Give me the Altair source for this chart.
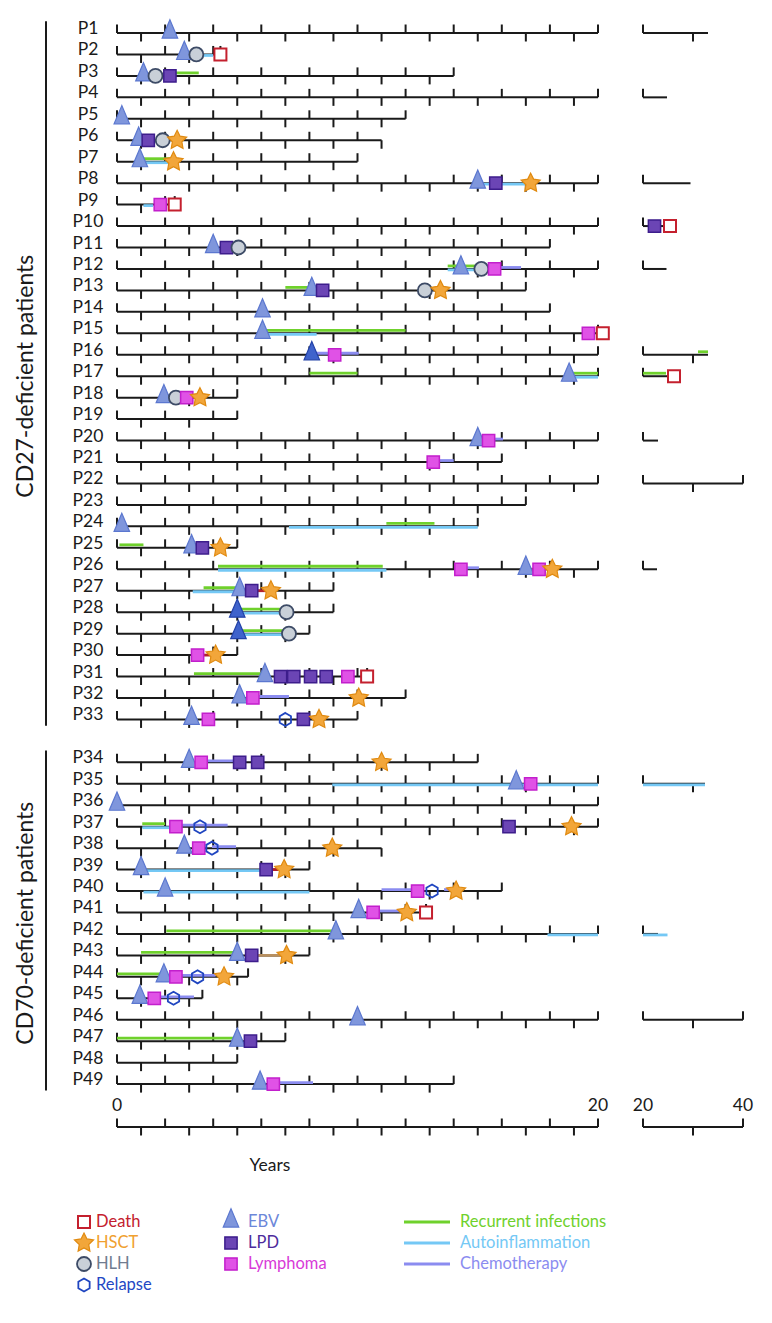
import math
import altair as alt
import pandas as pd

# ---------------- data ----------------
patients = [f"P{i}" for i in range(1, 50)]
cd27_count = 33  # P1-P33 CD27-deficient, P34-P49 CD70-deficient
group_titles = ["CD27-deficient patients", "CD70-deficient patients"]

followup = [33, 4.3, 14, 24.8, 12, 11, 10, 29.5, 2.4, 25.4,
            18, 24.7, 17, 18, 20, 33, 26.2, 5, 5, 23,
            16, 40, 17, 15, 5, 22.8, 9, 9, 8, 5,
            10.4, 12, 10, 15, 32.4, 20, 20, 11, 8, 16,
            12.85, 23, 8, 5.45, 3.55, 40, 7, 5, 14]
end_cap_down = ["P6", "P38"]

ebv = [("P1", 2.2), ("P2", 2.8), ("P3", 1.1), ("P5", 0.2), ("P6", 0.9), ("P7", 0.95),
       ("P8", 15.0), ("P11", 4.0), ("P12", 14.3), ("P13", 8.1), ("P14", 6.05), ("P15", 6.05),
       ("P17", 18.8), ("P18", 1.95), ("P20", 15.0), ("P24", 0.2), ("P25", 3.1), ("P26", 17.0),
       ("P27", 5.1), ("P31", 6.15), ("P32", 5.1), ("P33", 3.1), ("P34", 3.0), ("P35", 16.6),
       ("P36", 0.0), ("P38", 2.8), ("P39", 1.0), ("P40", 2.0), ("P41", 10.05), ("P42", 9.1),
       ("P43", 5.0), ("P44", 1.95), ("P45", 0.95), ("P46", 10.0), ("P47", 5.0), ("P49", 5.95)]
ebv_dark = [("P16", 8.1), ("P28", 5.0), ("P29", 5.05)]
hlh = [("P2", 3.3), ("P3", 1.6), ("P6", 1.9), ("P11", 5.05), ("P12", 15.15), ("P13", 12.8),
       ("P18", 2.45), ("P28", 7.05), ("P29", 7.15)]
lpd = [("P3", 2.2), ("P6", 1.3), ("P8", 15.75), ("P10", 22.3), ("P11", 4.55), ("P13", 8.55),
       ("P25", 3.55), ("P27", 5.6), ("P31", 6.8), ("P31", 7.35), ("P31", 8.05), ("P31", 8.7),
       ("P33", 7.75), ("P34", 5.1), ("P34", 5.85), ("P37", 16.3), ("P39", 6.2), ("P43", 5.6),
       ("P47", 5.55)]
lymphoma = [("P9", 1.8), ("P12", 15.7), ("P15", 19.6), ("P16", 9.05), ("P18", 2.9), ("P20", 15.45),
            ("P21", 13.15), ("P26", 14.3), ("P26", 17.55), ("P30", 3.35), ("P31", 9.6), ("P32", 5.65),
            ("P33", 3.8), ("P34", 3.5), ("P35", 17.2), ("P37", 2.45), ("P38", 3.4), ("P40", 12.5),
            ("P41", 10.65), ("P44", 2.45), ("P45", 1.55), ("P49", 6.5)]
hsct = [("P6", 2.5), ("P7", 2.35), ("P8", 17.2), ("P13", 13.45), ("P18", 3.45), ("P25", 4.3),
        ("P26", 18.1), ("P27", 6.4), ("P30", 4.1), ("P32", 10.05), ("P33", 8.4), ("P34", 11.0),
        ("P37", 18.9), ("P38", 8.95), ("P39", 6.95), ("P40", 14.1), ("P41", 12.05), ("P43", 7.05),
        ("P44", 4.45)]
death = [("P2", 4.3), ("P9", 2.4), ("P10", 25.4), ("P15", 20.2), ("P17", 26.2), ("P31", 10.4),
         ("P41", 12.85)]
relapse = [("P33", 7.0), ("P37", 3.45), ("P38", 3.95), ("P40", 13.1), ("P44", 3.35), ("P45", 2.35)]

infections = [("P3", 2.2, 3.4), ("P7", 0.95, 2.2), ("P12", 13.75, 14.95), ("P13", 7.0, 8.0),
              ("P15", 6.05, 12.0), ("P16", 31.0, 33.0), ("P17", 8.0, 10.0), ("P17", 18.8, 24.6),
              ("P24", 11.2, 13.2), ("P25", 0.1, 1.1), ("P26", 4.2, 11.05), ("P27", 3.6, 5.05),
              ("P28", 5.0, 6.8), ("P29", 5.05, 7.0), ("P31", 3.2, 6.15), ("P37", 1.05, 2.0),
              ("P42", 2.05, 9.0), ("P43", 1.0, 4.95), ("P44", 0.0, 1.95), ("P47", 0.0, 4.95)]
autoinflammation = [("P2", 3.3, 4.0), ("P6", 1.6, 2.2), ("P7", 0.95, 2.2), ("P8", 15.2, 17.0),
                    ("P9", 1.1, 1.5), ("P12", 13.75, 15.2), ("P15", 6.05, 8.3), ("P17", 18.8, 20.0),
                    ("P24", 7.15, 15.0), ("P26", 4.2, 11.2), ("P27", 3.15, 5.05), ("P28", 5.0, 6.8),
                    ("P29", 5.05, 7.0), ("P35", 8.95, 32.4), ("P37", 1.05, 2.2), ("P39", 1.0, 6.1),
                    ("P40", 1.1, 8.0), ("P42", 17.9, 24.9)]
chemotherapy = [("P12", 15.7, 16.8), ("P16", 8.1, 10.05), ("P20", 15.45, 16.05), ("P21", 13.15, 14.0),
                ("P26", 14.3, 15.05), ("P32", 5.65, 7.15), ("P34", 3.5, 5.1), ("P37", 2.45, 4.6),
                ("P38", 3.95, 4.95), ("P40", 11.0, 12.5), ("P40", 13.6, 13.9), ("P41", 10.65, 11.85),
                ("P44", 2.45, 4.1), ("P45", 1.55, 3.2), ("P49", 6.5, 8.15)]
other_red = [("P26", 17.0, 17.3), ("P27", 5.6, 6.2), ("P30", 3.35, 4.1), ("P39", 6.2, 6.9)]
other_tan = [("P43", 5.6, 7.0)]

axis_main_labels = [0, 20]
axis_right_labels = [20, 40]
axis_title = "Years"
legend_columns = [["Death", "HSCT", "HLH", "Relapse"],
                  ["EBV", "LPD", "Lymphoma"],
                  ["Recurrent infections", "Autoinflammation", "Chemotherapy"]]

# ---------------- styles ----------------
FONT = "Lato"
BLACK = "#1a1a1a"
GREEN, BLUE, PURPLE = "#6fd12c", "#74c8f5", "#8b8cf0"


def star_path(inner=0.5):
    pts = []
    for i in range(10):
        a = -math.pi / 2 + i * math.pi / 5
        r = 1.0 if i % 2 == 0 else inner
        pts.append(f"{r * math.cos(a):.3f},{r * math.sin(a):.3f}")
    return "M" + "L".join(pts) + "Z"


HEX = "M0,-1L0.866,-0.5L0.866,0.5L0,1L-0.866,0.5L-0.866,-0.5Z"
TRI = "M0,-1.7L-1,0.65L1,0.65Z"
LINE = "M-1,0L1,0"
STAR = star_path()

kinds = ["Death", "HSCT", "HLH", "Relapse", "EBV", "EBV (dark)", "LPD", "Lymphoma",
         "Recurrent infections", "Autoinflammation", "Chemotherapy"]
shapes = ["square", STAR, "circle", HEX, TRI, TRI, "square", "square", LINE, LINE, LINE]
fills = ["#ffffff", "#f2a63a", "#c9d0d8", "transparent", "#7f96dc", "#3f63cc", "#6b45b5",
         "#e052e6", "transparent", "transparent", "transparent"]
strokes = ["#c4202e", "#e08a10", "#3d4b66", "#1f45c0", "#5b77cf", "#2342a8", "#3d1d8c",
           "#c21fcc", GREEN, BLUE, PURPLE]
sizes = [144, 400, 196, 170, 240, 240, 150, 150, 2116, 2116, 2116]
widths = [2, 1.2, 1.8, 1.8, 1.2, 1.2, 1.5, 1.5, 2.8, 2.8, 2.8]
size_of = dict(zip(kinds, sizes))
width_of = dict(zip(kinds, widths))
legend_kinds = ["Death", "HSCT", "HLH", "Relapse", "EBV", "LPD", "Lymphoma",
                "Recurrent infections", "Autoinflammation", "Chemotherapy"]
legend_text_colors = ["#c4202e", "#f0a030", "#707c90", "#2347c4", "#6c87d9", "#4d2c9c",
                      "#d83ad8", GREEN, BLUE, PURPLE]


def add_style(df):
    df = df.copy()
    df["sz"] = df["kind"].map(size_of)
    df["sw"] = df["kind"].map(width_of)
    return df


def style_enc():
    return dict(
        shape=alt.Shape("kind:N", scale=alt.Scale(domain=kinds, range=shapes), legend=None),
        fill=alt.Fill("kind:N", scale=alt.Scale(domain=kinds, range=fills), legend=None),
        stroke=alt.Stroke("kind:N", scale=alt.Scale(domain=kinds, range=strokes), legend=None),
        size=alt.Size("sz:Q", scale=None, legend=None),
        strokeWidth=alt.StrokeWidth("sw:Q", scale=None, legend=None),
    )


# ---------------- tables ----------------
row_of = {p: (i if i < cd27_count else i + 1) for i, p in enumerate(patients)}
axis_row = row_of[patients[-1]] + 2
rows_all = [(p, row_of[p], fu) for p, fu in zip(patients, followup)] + [("axis", axis_row, 40)]

main_lines = pd.DataFrame([{"row": r, "start": 0, "end": min(fu, 20)} for _, r, fu in rows_all])
right_lines = pd.DataFrame([{"row": r, "start": 20, "end": fu} for _, r, fu in rows_all if fu > 20])

main_ticks, right_ticks = [], []
for p, r, fu in rows_all:
    end = min(fu, 20)
    main_ticks.append({"row": r, "x": 0, "dir": "up"})
    k = 1
    while k <= end:
        if k != end:
            main_ticks.append({"row": r, "x": k, "dir": "down" if k % 2 else "up"})
        k += 1
    main_ticks.append({"row": r, "x": end, "dir": "down" if p in end_cap_down else "up"})
    if fu > 20:
        for k in (20, 30, 40):
            if k <= fu:
                right_ticks.append({"row": r, "x": k, "dir": "down" if (k // 10) % 2 else "up"})
main_ticks = pd.DataFrame(main_ticks)
right_ticks = pd.DataFrame(right_ticks)

event_sets = [("EBV", ebv), ("EBV (dark)", ebv_dark), ("HLH", hlh), ("LPD", lpd),
              ("Lymphoma", lymphoma), ("HSCT", hsct), ("Death", death), ("Relapse", relapse)]
ev = pd.DataFrame([{"kind": k, "patient": p, "age": a, "row": row_of[p]}
                   for k, lst in event_sets for p, a in lst])
ev = add_style(ev.sort_values(["row", "age"], kind="stable"))
ev_main = ev[ev.age <= 20.5]
ev_right = ev[ev.age > 20.5]

seg_types = [("Autoinflammation", autoinflammation, BLUE, 1.0),
             ("Recurrent infections", infections, GREEN, -3.0),
             ("Chemotherapy", chemotherapy, PURPLE, -1.5),
             ("other red", other_red, "#b3202c", 0.0),
             ("other tan", other_tan, "#b89060", 0.0)]


def split_segments(lst):
    m, r = [], []
    for p, s, e in lst:
        if s < 20:
            m.append({"row": row_of[p], "start": s, "end": min(e, 20)})
        if e > 20:
            r.append({"row": row_of[p], "start": max(s, 20), "end": e})
    return pd.DataFrame(m), pd.DataFrame(r)


labels_df = pd.DataFrame({"patient": patients, "row": [row_of[p] for p in patients], "zero": 0})
groups = [patients[:cd27_count], patients[cd27_count:]]
groups_df = pd.DataFrame([{"title": t, "mid": (row_of[g[0]] + row_of[g[-1]]) / 2,
                           "y1": row_of[g[0]] - 0.55, "y2": row_of[g[-1]] + 0.3, "zero": 0}
                          for t, g in zip(group_titles, groups)])


def panel(x_domain, width, lines, ticks, seg_index, events, axis_labels, with_labels):
    xs = alt.Scale(domain=x_domain, nice=False, zero=False)
    ys = alt.Scale(domain=[0, axis_row], reverse=True, nice=False, zero=False)
    Y = alt.Y("row:Q", scale=ys, axis=None)
    layers = [
        alt.Chart(lines).mark_rule(color=BLACK, strokeWidth=2).encode(
            x=alt.X("start:Q", scale=xs, axis=None), x2="end:Q", y=Y),
        alt.Chart(ticks[ticks.dir == "up"]).mark_rule(color=BLACK, strokeWidth=2, y2Offset=-8.5).encode(
            x=alt.X("x:Q", scale=xs, axis=None), y=Y, y2="row:Q"),
    ]
    down = ticks[ticks.dir == "down"]
    if len(down):
        layers.append(alt.Chart(down).mark_rule(color=BLACK, strokeWidth=2, y2Offset=8.5).encode(
            x=alt.X("x:Q", scale=xs, axis=None), y=Y, y2="row:Q"))
    for name, lst, col, off in seg_types:
        df = split_segments(lst)[seg_index]
        if len(df):
            layers.append(alt.Chart(df).mark_rule(color=col, strokeWidth=2.8, yOffset=off).encode(
                x=alt.X("start:Q", scale=xs, axis=None), x2="end:Q", y=Y))
    if len(events):
        layers.append(alt.Chart(events).mark_point(opacity=1).encode(
            x=alt.X("age:Q", scale=xs, axis=None), y=Y, **style_enc()))
    ax = pd.DataFrame({"v": axis_labels, "t": [str(v) for v in axis_labels], "row": axis_row})
    layers.append(alt.Chart(ax).mark_text(dy=-21, font=FONT, fontSize=17.5, color=BLACK).encode(
        x=alt.X("v:Q", scale=xs, axis=None), y=Y, text="t:N"))
    if with_labels:
        layers.append(alt.Chart(labels_df).mark_text(
            align="center", baseline="middle", dx=-29, dy=-4, font=FONT, fontSize=17.5, color=BLACK
        ).encode(x=alt.X("zero:Q", scale=xs, axis=None), y=Y, text="patient:N"))
        layers.append(alt.Chart(groups_df).mark_text(
            angle=270, align="center", baseline="middle", xOffset=-91, font=FONT, fontSize=23, color=BLACK
        ).encode(x=alt.X("zero:Q", scale=xs, axis=None), y=alt.Y("mid:Q", scale=ys, axis=None),
                 text="title:N"))
        layers.append(alt.Chart(groups_df).mark_rule(color=BLACK, strokeWidth=2, xOffset=-71).encode(
            x=alt.X("zero:Q", scale=xs, axis=None), y=alt.Y("y1:Q", scale=ys, axis=None), y2="y2:Q"))
        yt = pd.DataFrame({"t": [axis_title], "row": [axis_row], "zero": [0]})
        layers.append(alt.Chart(yt).mark_text(
            align="center", baseline="middle", dx=153, dy=39, font=FONT, fontSize=17.5, color=BLACK
        ).encode(x=alt.X("zero:Q", scale=xs, axis=None), y=Y, text="t:N"))
    return alt.layer(*layers).properties(width=width, height=round(axis_row * 21.45))


main = panel([0, 20], 481, main_lines, main_ticks, 0, ev_main, axis_main_labels, True)
right = panel([20, 40], 100, right_lines, right_ticks, 1, ev_right, axis_right_labels, False)

# ---------------- legend ----------------
leg_x = alt.X("zero:Q", scale=alt.Scale(domain=[0, 1]), axis=None)
leg_y = alt.Y("lrow:Q", scale=alt.Scale(domain=[0, 3], reverse=True, nice=False, zero=False), axis=None)
sym_offsets = [-33, 114, 310]
txt_offsets = [-21, 131, 343]
leg_layers = []
for c, items in enumerate(legend_columns):
    df = add_style(pd.DataFrame({"kind": items, "lrow": list(range(len(items))), "zero": 0}))
    leg_layers.append(alt.Chart(df).mark_point(opacity=1, xOffset=sym_offsets[c]).encode(
        x=leg_x, y=leg_y, **style_enc()))
    leg_layers.append(alt.Chart(df).mark_text(
        align="left", baseline="middle", xOffset=txt_offsets[c], font=FONT, fontSize=16.5
    ).encode(x=leg_x, y=leg_y, text="kind:N",
             color=alt.Color("kind:N", scale=alt.Scale(domain=legend_kinds, range=legend_text_colors),
                             legend=None)))
legend = alt.layer(*leg_layers).properties(width=481, height=63)

chart = alt.concat(
    main, right, legend, columns=2,
    spacing={"row": 95, "column": 45}, bounds="flush"
).resolve_scale(
    x="independent", y="independent"
).properties(
    padding={"left": 7, "top": 9, "right": 6, "bottom": 6}
).configure_view(stroke=None, strokeWidth=0)

chart.save("out.html", embed_options={"renderer": "svg", "actions": False})
